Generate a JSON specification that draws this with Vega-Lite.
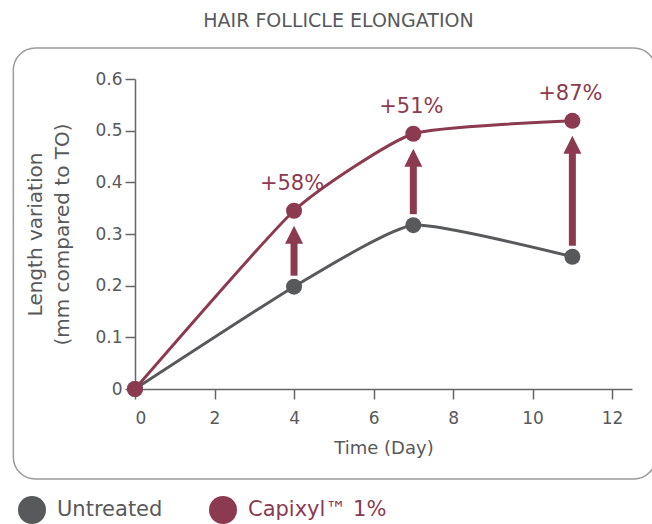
{
  "$schema": "https://vega.github.io/schema/vega-lite/v6.json",
  "width": 497,
  "height": 310,
  "autosize": {"type": "none"},
  "padding": {"left": 135, "top": 79, "right": 20, "bottom": 135},
  "background": "white",
  "config": {"view": {"stroke": null}, "font": "DejaVu Sans"},
  "title": {
    "text": "HAIR FOLLICLE ELONGATION",
    "fontSize": 19,
    "fontWeight": "normal",
    "color": "#58595B",
    "anchor": "middle",
    "frame": "group",
    "dx": -45,
    "offset": 16
  },
  "datasets": {
    "series": [
      {"day": 0, "group": "Untreated", "value": 0},
      {"day": 4, "group": "Untreated", "value": 0.198},
      {"day": 7, "group": "Untreated", "value": 0.317},
      {"day": 11, "group": "Untreated", "value": 0.256},
      {"day": 0, "group": "Capixyl™ 1%", "value": 0},
      {"day": 4, "group": "Capixyl™ 1%", "value": 0.345},
      {"day": 7, "group": "Capixyl™ 1%", "value": 0.494},
      {"day": 11, "group": "Capixyl™ 1%", "value": 0.519}
    ],
    "gain": [
      {"day": 4, "untreated": 0.198, "capixyl": 0.345, "label": "+58%"},
      {"day": 7, "untreated": 0.317, "capixyl": 0.494, "label": "+51%"},
      {"day": 11, "untreated": 0.256, "capixyl": 0.519, "label": "+87%"}
    ]
  },
  "layer": [
    {
      "data": {"values": [{}]},
      "mark": {"type": "rect", "cornerRadius": 22, "fill": null, "stroke": "#9a9a9a", "strokeWidth": 1.5},
      "encoding": {
        "x": {
          "datum": -3.06, "type": "quantitative",
          "scale": {"domain": [0, 12.5], "nice": false},
          "axis": {
            "values": [0, 2, 4, 6, 8, 10, 12],
            "grid": false,
            "domainColor": "#666666", "domainWidth": 1.5,
            "tickColor": "#666666", "tickWidth": 1.5, "tickSize": 10,
            "labelFontSize": 17, "labelColor": "#58595B", "labelPadding": 11,
            "title": "Time (Day)", "titleFontSize": 18, "titleFontWeight": "normal",
            "titleColor": "#58595B", "titlePadding": 13
          }
        },
        "x2": {"datum": 13.1},
        "y": {
          "datum": 0.66, "type": "quantitative",
          "scale": {"domain": [0, 0.6], "nice": false},
          "axis": {
            "values": [0, 0.1, 0.2, 0.3, 0.4, 0.5, 0.6],
            "grid": false,
            "labelExpr": "datum.value === 0 ? '0' : format(datum.value, '.1f')",
            "domainColor": "#666666", "domainWidth": 1.5,
            "tickColor": "#666666", "tickWidth": 1.5, "tickSize": 10,
            "labelFontSize": 17, "labelColor": "#58595B", "labelPadding": 3,
            "title": ["Length variation", "(mm compared to TO)"],
            "titleFontSize": 20, "titleFontWeight": "normal", "titleColor": "#58595B",
            "titlePadding": 22, "titleLineHeight": 27
          }
        },
        "y2": {"datum": -0.174}
      }
    },
    {
      "data": {"name": "series"},
      "transform": [{"filter": "datum.group === 'Untreated'"}],
      "mark": {"type": "line", "interpolate": "cardinal", "tension": 0.5, "strokeWidth": 3, "color": "#58595B"},
      "encoding": {
        "x": {"field": "day", "type": "quantitative"},
        "y": {"field": "value", "type": "quantitative"}
      }
    },
    {
      "data": {"name": "series"},
      "transform": [{"filter": "datum.group !== 'Untreated'"}],
      "mark": {"type": "line", "interpolate": "cardinal", "tension": 0.5, "strokeWidth": 3, "color": "#8C3A50"},
      "encoding": {
        "x": {"field": "day", "type": "quantitative"},
        "y": {"field": "value", "type": "quantitative"}
      }
    },
    {
      "data": {"name": "gain"},
      "mark": {"type": "rule", "strokeWidth": 7, "color": "#8C3A50", "yOffset": -11, "y2Offset": 24},
      "encoding": {
        "x": {"field": "day", "type": "quantitative"},
        "y": {"field": "untreated", "type": "quantitative"},
        "y2": {"field": "capixyl"}
      }
    },
    {
      "data": {"name": "gain"},
      "mark": {"type": "point", "shape": "M0,-1L-1,1L1,1Z", "size": 324, "filled": true, "opacity": 1, "color": "#8C3A50", "yOffset": 24},
      "encoding": {
        "x": {"field": "day", "type": "quantitative"},
        "y": {"field": "capixyl", "type": "quantitative"}
      }
    },
    {
      "data": {"name": "series"},
      "mark": {"type": "circle", "size": 256, "opacity": 1},
      "encoding": {
        "x": {"field": "day", "type": "quantitative"},
        "y": {"field": "value", "type": "quantitative"},
        "color": {
          "field": "group", "type": "nominal",
          "scale": {"domain": ["Untreated", "Capixyl™ 1%"], "range": ["#58595B", "#8C3A50"]},
          "legend": {
            "orient": "none", "legendX": -117, "legendY": 417,
            "direction": "horizontal", "title": null,
            "symbolSize": 784, "symbolType": "circle", "symbolStrokeWidth": 0, "symbolOpacity": 1,
            "labelFontSize": 21, "labelOffset": 11, "columnPadding": 46,
            "labelColor": "#58595B",
            "encode": {"labels": {"update": {"fill": {"signal": "datum.label === 'Untreated' ? '#58595B' : '#8C3A50'"}}}}
          }
        }
      }
    },
    {
      "data": {"name": "gain"},
      "mark": {"type": "text", "fontSize": 21, "color": "#8C3A50", "dy": -27, "dx": -2, "align": "center", "baseline": "middle"},
      "encoding": {
        "x": {"field": "day", "type": "quantitative"},
        "y": {"field": "capixyl", "type": "quantitative"},
        "text": {"field": "label"}
      }
    }
  ]
}
